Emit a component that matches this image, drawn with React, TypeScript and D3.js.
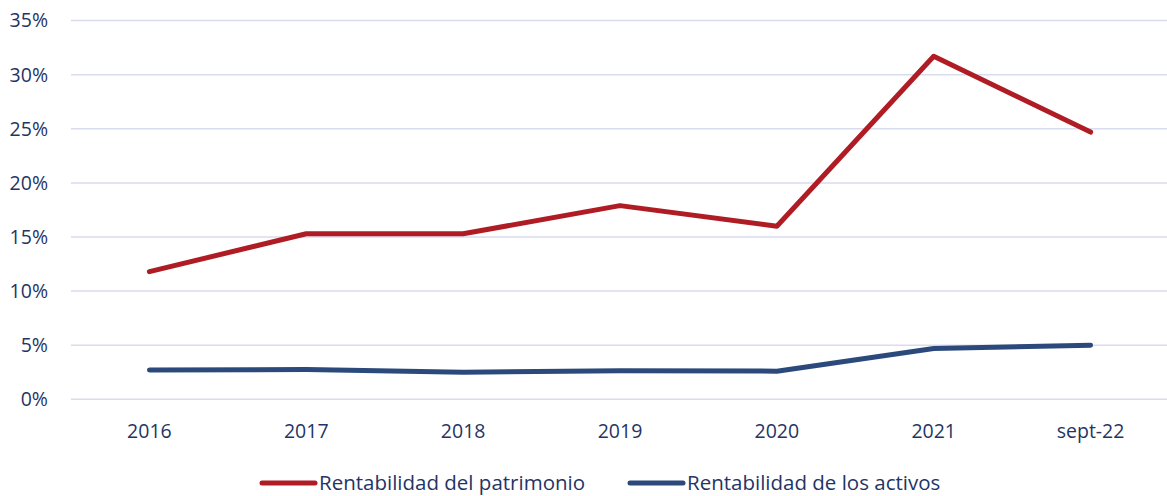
import * as d3 from 'd3';
import React from 'react';

const categories = ['2016', '2017', '2018', '2019', '2020', '2021', 'sept-22'];
const patrimonio = [11.8, 15.3, 15.3, 17.9, 16.0, 31.7, 24.7];
const activos = [2.7, 2.75, 2.5, 2.65, 2.6, 4.7, 5.0];
const yTicks = [0, 5, 10, 15, 20, 25, 30, 35];

const seriesList = [
  { name: 'Rentabilidad del patrimonio', values: patrimonio, color: '#b01c24' },
  { name: 'Rentabilidad de los activos', values: activos, color: '#2b4a7b' },
];

const W = 1167;
const H = 496;
const textColor = '#1f3566';
const font = '"Open Sans", "Noto Sans", sans-serif';

export default function App() {
  const ref = React.useRef<SVGSVGElement>(null);

  React.useEffect(() => {
    if (!ref.current) return;
    const svg = d3.select(ref.current);
    svg.selectAll('*').remove();

    const x = d3.scalePoint<string>().domain(categories).range([71, 1169]).padding(0.5);
    const y = d3.scaleLinear().domain([0, 35]).range([399.3, 20.6]);

    // gridlines
    svg
      .append('g')
      .selectAll('line')
      .data(yTicks)
      .enter()
      .append('line')
      .attr('x1', 71)
      .attr('x2', W)
      .attr('y1', (d) => y(d))
      .attr('y2', (d) => y(d))
      .attr('stroke', '#d9dcec')
      .attr('stroke-width', 1.5);

    // y labels
    svg
      .append('g')
      .selectAll('text')
      .data(yTicks)
      .enter()
      .append('text')
      .attr('x', 48)
      .attr('y', (d) => y(d))
      .attr('dy', '0.35em')
      .attr('text-anchor', 'end')
      .attr('font-family', font)
      .attr('font-size', 19.5)
      .attr('fill', textColor)
      .text((d) => `${d}%`);

    // x labels
    svg
      .append('g')
      .selectAll('text')
      .data(categories)
      .enter()
      .append('text')
      .attr('x', (d) => x(d) as number)
      .attr('y', 431)
      .attr('dy', '0.35em')
      .attr('text-anchor', 'middle')
      .attr('font-family', font)
      .attr('font-size', 19.5)
      .attr('fill', textColor)
      .text((d) => d);

    const line = d3
      .line<number>()
      .x((_, i) => x(categories[i]) as number)
      .y((d) => y(d));

    seriesList.forEach((s) => {
      svg
        .append('path')
        .datum(s.values)
        .attr('fill', 'none')
        .attr('stroke', s.color)
        .attr('stroke-width', 5)
        .attr('stroke-linecap', 'round')
        .attr('stroke-linejoin', 'round')
        .attr('d', line);
    });

    // legend
    const legendX = [262, 630];
    const legend = svg.append('g');
    seriesList.forEach((s, i) => {
      const lx = legendX[i];
      legend
        .append('line')
        .attr('x1', lx)
        .attr('x2', lx + 53)
        .attr('y1', 483)
        .attr('y2', 483)
        .attr('stroke', s.color)
        .attr('stroke-width', 5)
        .attr('stroke-linecap', 'round');
      legend
        .append('text')
        .attr('x', lx + 57)
        .attr('y', 483)
        .attr('dy', '0.35em')
        .attr('font-family', font)
        .attr('font-size', 20.5)
        .attr('fill', textColor)
        .text(s.name);
    });
  }, []);

  return (
    <div style={{ position: 'absolute', left: 0, top: 0 }}>
      <svg ref={ref} width={W} height={H} style={{ display: 'block' }} />
    </div>
  );
}
